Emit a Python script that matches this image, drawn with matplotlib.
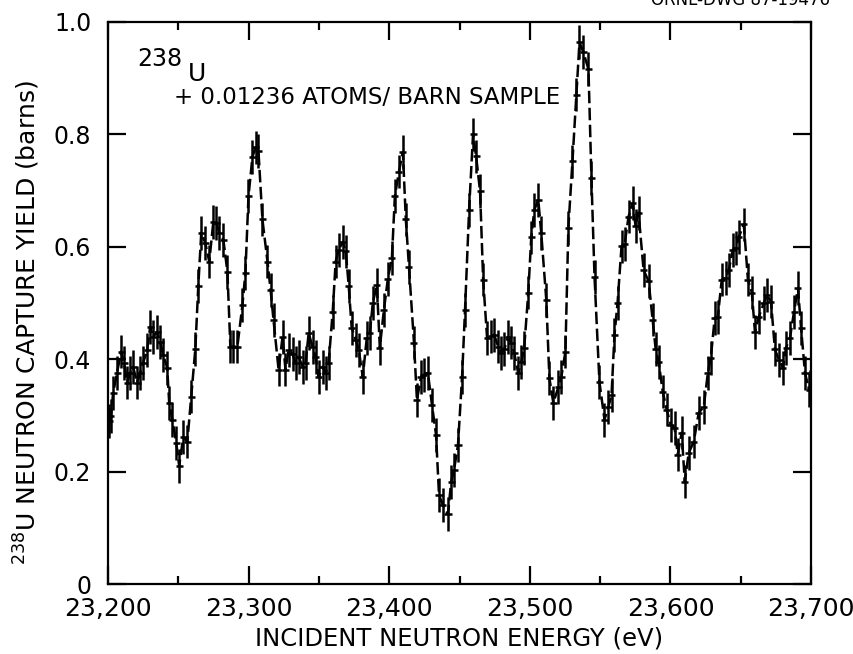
import matplotlib
matplotlib.use("Agg")
import matplotlib.pyplot as plt
from matplotlib.ticker import MultipleLocator, FuncFormatter

# incident neutron energy (eV) and capture yield (barns)
energy = [
    23200.7, 23202.1, 23203.6, 23206.4, 23209.3, 23211.4, 23213.6, 23215.7, 23217.8, 23220.7,
    23222.8, 23225.0, 23227.8, 23230.0, 23232.1, 23234.9, 23237.1, 23239.2, 23242.1, 23243.5,
    23245.7, 23248.5, 23250.6, 23253.5, 23256.4, 23259.2, 23262.1, 23264.2, 23266.3, 23269.2,
    23272.0, 23274.9, 23277.0, 23279.2, 23282.0, 23284.9, 23287.0, 23289.2, 23292.0, 23295.6,
    23297.7, 23299.9, 23302.7, 23304.9, 23307.0, 23309.8, 23313.4, 23315.6, 23317.7, 23321.3,
    23324.1, 23326.2, 23328.4, 23331.2, 23333.4, 23335.5, 23338.4, 23340.5, 23342.7, 23345.5,
    23347.6, 23349.8, 23352.6, 23354.8, 23356.9, 23359.8, 23361.9, 23364.1, 23366.9, 23369.1,
    23371.2, 23373.3, 23376.2, 23378.3, 23381.2, 23384.0, 23386.2, 23388.3, 23391.2, 23393.3,
    23396.2, 23399.0, 23401.9, 23404.0, 23406.9, 23409.7, 23411.8, 23414.0, 23417.6, 23419.7,
    23422.6, 23424.7, 23427.5, 23430.4, 23433.3, 23435.4, 23438.2, 23441.8, 23444.0, 23446.1,
    23448.9, 23451.8, 23453.9, 23456.8, 23459.6, 23461.8, 23464.6, 23466.8, 23469.6, 23472.5,
    23474.6, 23477.5, 23479.6, 23481.8, 23484.6, 23486.7, 23488.9, 23491.7, 23493.9, 23496.0,
    23498.9, 23501.0, 23503.2, 23506.0, 23508.1, 23511.7, 23513.9, 23516.7, 23520.3, 23522.4,
    23525.3, 23527.4, 23530.3, 23533.1, 23535.3, 23538.1, 23541.7, 23543.8, 23546.0, 23549.5,
    23553.1, 23555.9, 23558.1, 23560.2, 23562.4, 23565.2, 23567.4, 23570.2, 23573.1, 23575.2,
    23577.3, 23580.9, 23584.5, 23587.3, 23589.5, 23591.6, 23594.5, 23597.3, 23600.2, 23603.0,
    23605.2, 23608.0, 23610.2, 23613.0, 23616.6, 23620.1, 23623.7, 23626.6, 23628.7, 23631.5,
    23633.7, 23636.5, 23639.4, 23641.5, 23644.4, 23646.5, 23648.7, 23652.2, 23655.1, 23657.9,
    23660.1, 23662.9, 23666.5, 23668.6, 23671.5, 23674.3, 23677.2, 23680.0, 23682.2, 23685.0,
    23687.9, 23690.7, 23692.9, 23695.7, 23698.6, 23699.5,
]
capture_yield = [
    0.290, 0.300, 0.340, 0.376, 0.414, 0.394, 0.359, 0.376, 0.387, 0.359,
    0.376, 0.394, 0.417, 0.458, 0.440, 0.449, 0.431, 0.408, 0.385, 0.323,
    0.293, 0.252, 0.211, 0.262, 0.254, 0.334, 0.419, 0.531, 0.625, 0.607,
    0.574, 0.645, 0.643, 0.625, 0.613, 0.556, 0.423, 0.423, 0.423, 0.497,
    0.554, 0.690, 0.760, 0.777, 0.770, 0.649, 0.574, 0.524, 0.470, 0.382,
    0.440, 0.382, 0.417, 0.410, 0.394, 0.405, 0.387, 0.394, 0.447, 0.422,
    0.405, 0.369, 0.387, 0.376, 0.394, 0.485, 0.574, 0.595, 0.609, 0.592,
    0.530, 0.456, 0.435, 0.417, 0.369, 0.438, 0.447, 0.500, 0.533, 0.421,
    0.488, 0.543, 0.581, 0.690, 0.734, 0.769, 0.649, 0.565, 0.430, 0.328,
    0.369, 0.373, 0.376, 0.319, 0.266, 0.159, 0.141, 0.125, 0.182, 0.204,
    0.248, 0.369, 0.488, 0.666, 0.800, 0.761, 0.699, 0.542, 0.438, 0.441,
    0.444, 0.423, 0.412, 0.418, 0.440, 0.430, 0.412, 0.376, 0.395, 0.421,
    0.519, 0.617, 0.666, 0.684, 0.625, 0.506, 0.367, 0.323, 0.351, 0.369,
    0.414, 0.634, 0.752, 0.871, 0.964, 0.946, 0.916, 0.723, 0.547, 0.360,
    0.293, 0.316, 0.337, 0.444, 0.501, 0.601, 0.605, 0.654, 0.678, 0.637,
    0.661, 0.559, 0.539, 0.471, 0.418, 0.396, 0.343, 0.311, 0.284, 0.278,
    0.231, 0.270, 0.183, 0.234, 0.254, 0.305, 0.316, 0.376, 0.403, 0.474,
    0.476, 0.542, 0.545, 0.559, 0.595, 0.598, 0.618, 0.640, 0.542, 0.519,
    0.449, 0.476, 0.501, 0.515, 0.503, 0.418, 0.399, 0.385, 0.421, 0.438,
    0.485, 0.527, 0.456, 0.376, 0.346, 0.351,
]
yield_err = 0.03      # half height of the vertical bars (barns)
energy_halfwidth = 2.5  # half width of the horizontal bars (eV)

plt.rcParams["font.family"] = ["DejaVu Sans"]

fig = plt.figure(figsize=(8.54, 6.54), dpi=100)
ax = fig.add_axes([0.1265, 0.1063, 0.8232, 0.8601])

ax.plot(energy, capture_yield, color="black", lw=1.8, ls=(0, (5, 1.8)))
ax.errorbar(energy, capture_yield, yerr=yield_err, xerr=energy_halfwidth,
            fmt="none", ecolor="black", elinewidth=1.8, capsize=0)

ax.set_xlim(23200, 23700)
ax.set_ylim(0, 1.0)

ax.xaxis.set_major_locator(MultipleLocator(100))
ax.xaxis.set_minor_locator(MultipleLocator(50))
ax.yaxis.set_major_locator(MultipleLocator(0.2))
ax.xaxis.set_major_formatter(FuncFormatter(lambda v, p: f"{v:,.0f}"))
ax.yaxis.set_major_formatter(FuncFormatter(lambda v, p: "0" if abs(v) < 1e-9 else f"{v:.1f}"))

ax.tick_params(which="both", direction="in", top=True, right=True, width=1.6)
ax.tick_params(which="major", length=13)
ax.tick_params(which="minor", length=6)
ax.tick_params(axis="x", pad=9, labelsize=18)
ax.tick_params(axis="y", pad=12, labelsize=17)
for s in ax.spines.values():
    s.set_linewidth(1.6)

ax.set_xlabel("INCIDENT NEUTRON ENERGY (eV)", fontsize=17.5, va="center")
ax.xaxis.set_label_coords(0.5, -0.096)
ax.set_ylabel(r"$^{238}$U NEUTRON CAPTURE YIELD (barns)", fontsize=18, va="center")
ax.yaxis.set_label_coords(-0.115, 0.465)

ax.text(0.041, 0.935, "238", transform=ax.transAxes, fontsize=17, va="center")
ax.text(0.113, 0.908, "U", transform=ax.transAxes, fontsize=18, va="center")
ax.text(0.094, 0.866, "+ 0.01236 ATOMS/ BARN SAMPLE", transform=ax.transAxes,
        fontsize=16.5, va="center")

fig.text(0.972, 1.0, "ORNL-DWG 87-19476", ha="right", va="center", fontsize=12)

fig.savefig("out.png", dpi=100)
